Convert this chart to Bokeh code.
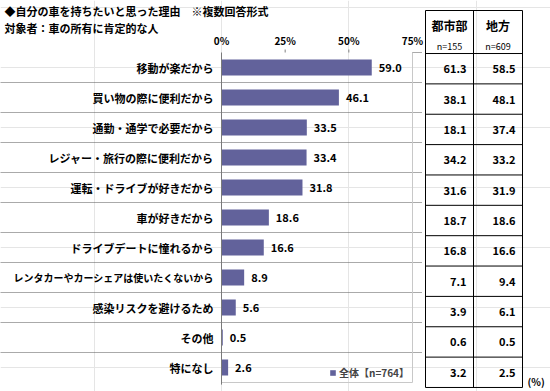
from bokeh.plotting import figure
from bokeh.models import ColumnDataSource, Range1d, Legend, LegendItem
from bokeh.core.properties import value
from bokeh.embed import file_html
from bokeh.resources import INLINE

# ---------------- data ----------------
categories = ["移動が楽だから", "買い物の際に便利だから", "通勤・通学で必要だから",
              "レジャー・旅行の際に便利だから", "運転・ドライブが好きだから", "車が好きだから",
              "ドライブデートに憧れるから", "レンタカーやカーシェアは使いたくないから",
              "感染リスクを避けるため", "その他", "特になし"]
total = [59.0, 46.1, 33.5, 33.4, 31.8, 18.6, 16.6, 8.9, 5.6, 0.5, 2.6]
urban = [61.3, 38.1, 18.1, 34.2, 31.6, 18.7, 16.8, 7.1, 3.9, 0.6, 3.2]
rural = [58.5, 48.1, 37.4, 33.2, 31.9, 18.6, 16.6, 9.4, 6.1, 0.5, 2.5]
ticks = [0, 25, 50, 75]
tick_labels = ["0%", "25%", "50%", "75%"]
table_headers = ["都市部", "地方"]
table_ns = ["n=155", "n=609"]
legend_label = "全体【n=764】"
title1 = "◆自分の車を持ちたいと思った理由　※複数回答形式"
title2 = "対象者：車の所有に肯定的な人"
unit_label = "(%)"

# ---------------- layout constants ----------------
W, H = 550, 391
AX0, AX75 = 221, 412          # pixel positions of 0% and 75%
ROW0, ROWH = 67, 30           # centre of first chart row, row pitch (px)
TROW0, TROWH = 68.2, 30.36    # centre of first table row, table row pitch
ppu = (AX75 - AX0) / 75.0
FONT = "Noto Sans CJK JP"
BAR = "#62629b"

n = len(categories)
rows = list(range(n))

p = figure(width=W, height=H,
           x_range=Range1d(-AX0 / ppu, (W - AX0) / ppu),
           y_range=Range1d((H - ROW0) / ROWH, -ROW0 / ROWH),
           output_backend="svg", toolbar_location=None,
           x_axis_location=None, y_axis_location=None, min_border=0)
p.outline_line_color = None
p.background_fill_color = "white"
p.border_fill_color = "white"
p.extra_x_ranges = {"px": Range1d(0, W)}
p.extra_y_ranges = {"py": Range1d(H, 0),
                    "trow": Range1d((H - TROW0) / TROWH, -TROW0 / TROWH)}

src = ColumnDataSource(dict(
    row=rows, cat=categories, total=total,
    total_txt=[f"{v:.1f}" for v in total],
    urban_txt=[f"{v:.1f}" for v in urban],
    rural_txt=[f"{v:.1f}" for v in rural],
    cat_size=["10px" if len(c) > 16 else "11px" for c in categories],
))

# titles
p.text(x=[4], y=[10], text=[title1], x_range_name="px", y_range_name="py",
       text_font=value(FONT), text_font_style="bold", text_font_size="11px",
       text_baseline="middle", text_color="black")
p.text(x=[4], y=[27], text=[title2], x_range_name="px", y_range_name="py",
       text_font=value(FONT), text_font_style="bold", text_font_size="11px",
       text_baseline="middle", text_color="black")

# tick labels and small ticks
p.text(x=ticks, y=[40] * len(ticks), text=tick_labels, y_range_name="py",
       text_font=value(FONT), text_font_style="bold", text_font_size="10px",
       text_align="center", text_baseline="middle", text_color="black")
p.segment(x0=ticks[1:-1], x1=ticks[1:-1], y0=[49] * (len(ticks) - 2), y1=[52] * (len(ticks) - 2),
          y_range_name="py", line_color="#808080", line_width=1)

# row separators (dotted)
p.segment(x0=[0] * (n - 1), x1=[AX75 + 10] * (n - 1), y0=[r + 0.5 for r in rows[:-1]],
          y1=[r + 0.5 for r in rows[:-1]], x_range_name="px",
          line_color="#555555", line_dash="1 1", line_width=1)
p.segment(x0=[AX75], x1=[AX75 + 10], y0=[-0.5], y1=[-0.5], x_range_name="px",
          line_color="#555555", line_dash="1 1", line_width=1)

# plot box
p.segment(x0=[ticks[-1], 0], x1=[ticks[-1], ticks[-1]], y0=[-0.5, n - 0.5], y1=[n - 0.5, n - 0.5],
          line_color="#c8c8c8", line_width=1)

# bars
bars = p.hbar(y="row", left=0, right="total", height=16 / ROWH, source=src,
              fill_color=BAR, line_color=None)
# axis line
p.segment(x0=[0], x1=[0], y0=[-0.5], y1=[n - 0.43], line_color="#7a7a7a", line_width=1)

# value labels
p.text(x="total", y="row", text="total_txt", source=src, x_offset=7,
       text_font=value(FONT), text_font_style="bold", text_font_size="11px",
       text_baseline="middle", text_color="black")

# category labels
p.text(x=AX0 - 8, y="row", text="cat", source=src, x_range_name="px",
       text_font=value(FONT), text_font_style="bold", text_font_size="cat_size",
       text_align="right", text_baseline="middle", text_color="black")

# table
TL, TM, TR, TT = 425, 473, 522, 10
TB = TROW0 + TROWH * (n - 0.5)
hy = [r - 0.5 for r in range(n + 1)]
p.segment(x0=[TL] * len(hy), x1=[TR] * len(hy), y0=hy, y1=hy, x_range_name="px",
          y_range_name="trow", line_color="black", line_width=1)
p.segment(x0=[TL, TL, TM, TR], x1=[TR, TL, TM, TR], y0=[TT, TT, TT, TT], y1=[TT, TB, TB, TB],
          x_range_name="px", y_range_name="py", line_color="black", line_width=1)
p.text(x=[(TL + TM) / 2, (TM + TR) / 2], y=[25, 25], text=table_headers,
       x_range_name="px", y_range_name="py",
       text_font=value(FONT), text_font_style="bold", text_font_size="12px",
       text_align="center", text_baseline="middle", text_color="black")
p.text(x=[(TL + TM) / 2, (TM + TR) / 2], y=[46, 46], text=table_ns,
       x_range_name="px", y_range_name="py",
       text_font=value(FONT), text_font_size="9px",
       text_align="center", text_baseline="middle", text_color="black")
p.text(x=TM - 7, y="row", text="urban_txt", source=src, x_range_name="px", y_range_name="trow",
       text_font=value(FONT), text_font_style="bold", text_font_size="11px",
       text_align="right", text_baseline="middle", text_color="black")
p.text(x=TR - 7, y="row", text="rural_txt", source=src, x_range_name="px", y_range_name="trow",
       text_font=value(FONT), text_font_style="bold", text_font_size="11px",
       text_align="right", text_baseline="middle", text_color="black")
p.text(x=[527], y=[381], text=[unit_label], x_range_name="px", y_range_name="py",
       text_font=value(FONT), text_font_style="bold", text_font_size="10px",
       text_align="left", text_baseline="middle", text_color="black")

# legend
legend = Legend(items=[LegendItem(label=legend_label, renderers=[bars])],
                location=(329, 11), orientation="horizontal",
                background_fill_alpha=0, border_line_color=None,
                glyph_width=7, glyph_height=7, label_standoff=3,
                label_text_font=FONT, label_text_font_style="bold",
                label_text_font_size="10px", padding=0, margin=0, spacing=0)
p.add_layout(legend)

open("out.html", "w").write(file_html(p, INLINE))
